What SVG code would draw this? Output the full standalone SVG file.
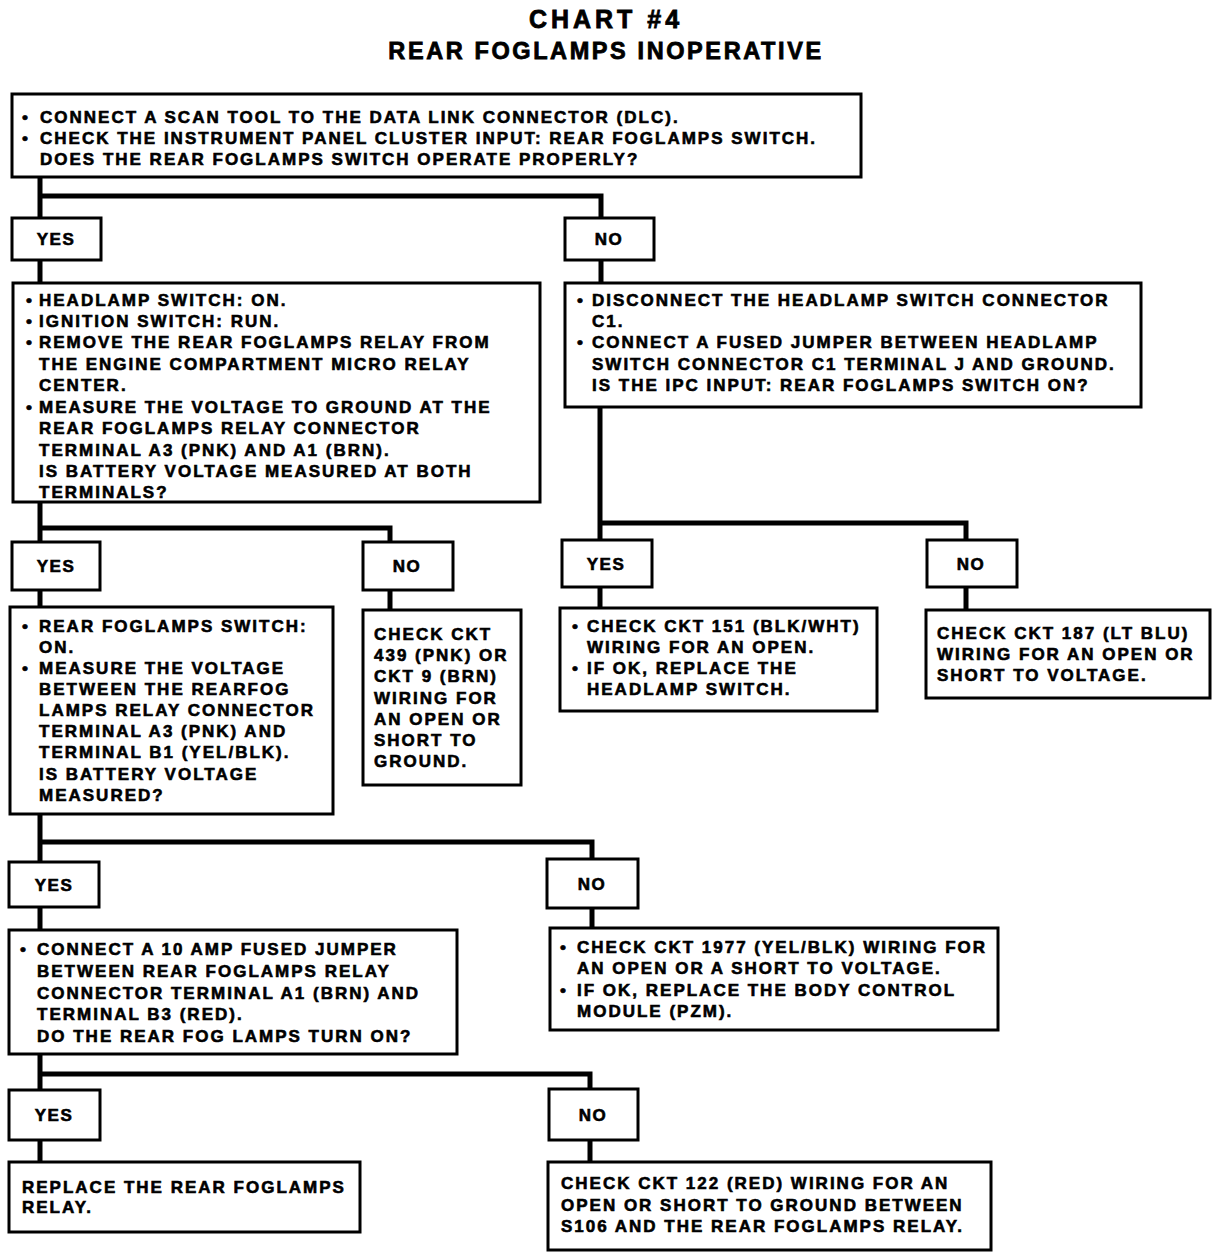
<svg xmlns="http://www.w3.org/2000/svg" width="1216" height="1260" viewBox="0 0 1216 1260">
<style>
.t{font-family:"Liberation Sans",Arial,sans-serif;font-weight:bold;font-size:17px;letter-spacing:2px;fill:#000;stroke:#000;stroke-width:0.6}
.h{font-family:"Liberation Sans",Arial,sans-serif;font-weight:bold;fill:#000;stroke:#000;stroke-width:0.8;text-anchor:middle}
.lb{font-family:"Liberation Sans",Arial,sans-serif;font-weight:bold;font-size:17px;letter-spacing:1.5px;fill:#000;stroke:#000;stroke-width:0.6;text-anchor:middle}
.box{fill:#fff;stroke:#000;stroke-width:3}
.conn{fill:none;stroke:#000;stroke-width:5}
</style>
<rect width="1216" height="1260" fill="#fff"/>
<g id="title">
<text class="h" x="606" y="28" font-size="25" letter-spacing="4">CHART #4</text>
<text class="h" x="606" y="59" font-size="23.5" letter-spacing="2.6">REAR FOGLAMPS INOPERATIVE</text>
</g>
<g id="connectors">
<path class="conn" d="M40,177 V218 M40,196 H601 V218"/>
<path class="conn" d="M40,260 V283 M601,260 V283"/>
<path class="conn" d="M40,502 V542 M40,528 H390 V542"/>
<path class="conn" d="M40,590 V607 M390,590 V610"/>
<path class="conn" d="M600,407 V540 M600,523 H966 V540"/>
<path class="conn" d="M600,587 V608 M966,587 V610"/>
<path class="conn" d="M40,814 V862 M40,842 H592 V859"/>
<path class="conn" d="M40,907 V930 M592,908 V928"/>
<path class="conn" d="M40,1054 V1090 M40,1074 H590 V1089"/>
<path class="conn" d="M40,1140 V1162 M590,1140 V1162"/>
</g>
<g id="n1">
<rect class="box" x="12" y="94" width="849" height="83"/>
<text class="t" x="22" y="123">•</text><text class="t" x="40" y="123">CONNECT A SCAN TOOL TO THE DATA LINK CONNECTOR (DLC).</text>
<text class="t" x="22" y="144">•</text><text class="t" x="40" y="144">CHECK THE INSTRUMENT PANEL CLUSTER INPUT: REAR FOGLAMPS SWITCH.</text>
<text class="t" x="40" y="165">DOES THE REAR FOGLAMPS SWITCH OPERATE PROPERLY?</text>
</g>
<g id="yes1"><rect class="box" x="12" y="218" width="89" height="42"/><text class="lb" x="56" y="245">YES</text></g>
<g id="no1"><rect class="box" x="565" y="218" width="89" height="42"/><text class="lb" x="609" y="245">NO</text></g>
<g id="n2">
<rect class="box" x="13" y="283" width="527" height="219"/>
<text class="t" x="26" y="306">•</text><text class="t" x="39" y="306">HEADLAMP SWITCH: ON.</text>
<text class="t" x="26" y="327">•</text><text class="t" x="39" y="327">IGNITION SWITCH: RUN.</text>
<text class="t" x="26" y="348">•</text><text class="t" x="39" y="348">REMOVE THE REAR FOGLAMPS RELAY FROM</text>
<text class="t" x="39" y="370">THE ENGINE COMPARTMENT MICRO RELAY</text>
<text class="t" x="39" y="391">CENTER.</text>
<text class="t" x="26" y="413">•</text><text class="t" x="39" y="413">MEASURE THE VOLTAGE TO GROUND AT THE</text>
<text class="t" x="39" y="434">REAR FOGLAMPS RELAY CONNECTOR</text>
<text class="t" x="39" y="456">TERMINAL A3 (PNK) AND A1 (BRN).</text>
<text class="t" x="39" y="477">IS BATTERY VOLTAGE MEASURED AT BOTH</text>
<text class="t" x="39" y="498">TERMINALS?</text>
</g>
<g id="n3">
<rect class="box" x="565" y="283" width="576" height="124"/>
<text class="t" x="577" y="306">•</text><text class="t" x="592" y="306">DISCONNECT THE HEADLAMP SWITCH CONNECTOR</text>
<text class="t" x="592" y="327">C1.</text>
<text class="t" x="577" y="348">•</text><text class="t" x="592" y="348">CONNECT A FUSED JUMPER BETWEEN HEADLAMP</text>
<text class="t" x="592" y="370">SWITCH CONNECTOR C1 TERMINAL J AND GROUND.</text>
<text class="t" x="592" y="391">IS THE IPC INPUT: REAR FOGLAMPS SWITCH ON?</text>
</g>
<g id="yes2"><rect class="box" x="12" y="542" width="88" height="48"/><text class="lb" x="56" y="572">YES</text></g>
<g id="no2"><rect class="box" x="363" y="542" width="90" height="48"/><text class="lb" x="407" y="572">NO</text></g>
<g id="yes3"><rect class="box" x="562" y="540" width="90" height="47"/><text class="lb" x="606" y="570">YES</text></g>
<g id="no3"><rect class="box" x="927" y="540" width="90" height="47"/><text class="lb" x="971" y="570">NO</text></g>
<g id="n4">
<rect class="box" x="10" y="607" width="323" height="207"/>
<text class="t" x="22" y="632">•</text><text class="t" x="39" y="632">REAR FOGLAMPS SWITCH:</text>
<text class="t" x="39" y="653">ON.</text>
<text class="t" x="22" y="674">•</text><text class="t" x="39" y="674">MEASURE THE VOLTAGE</text>
<text class="t" x="39" y="695">BETWEEN THE REARFOG</text>
<text class="t" x="39" y="716">LAMPS RELAY CONNECTOR</text>
<text class="t" x="39" y="737">TERMINAL A3 (PNK) AND</text>
<text class="t" x="39" y="758">TERMINAL B1 (YEL/BLK).</text>
<text class="t" x="39" y="780">IS BATTERY VOLTAGE</text>
<text class="t" x="39" y="801">MEASURED?</text>
</g>
<g id="n5">
<rect class="box" x="363" y="610" width="158" height="175"/>
<text class="t" x="374" y="640">CHECK CKT</text>
<text class="t" x="374" y="661">439 (PNK) OR</text>
<text class="t" x="374" y="682">CKT 9 (BRN)</text>
<text class="t" x="374" y="704">WIRING FOR</text>
<text class="t" x="374" y="725">AN OPEN OR</text>
<text class="t" x="374" y="746">SHORT TO</text>
<text class="t" x="374" y="767">GROUND.</text>
</g>
<g id="n6">
<rect class="box" x="560" y="608" width="317" height="103"/>
<text class="t" x="572" y="632">•</text><text class="t" x="587" y="632">CHECK CKT 151 (BLK/WHT)</text>
<text class="t" x="587" y="653">WIRING FOR AN OPEN.</text>
<text class="t" x="572" y="674">•</text><text class="t" x="587" y="674">IF OK, REPLACE THE</text>
<text class="t" x="587" y="695">HEADLAMP SWITCH.</text>
</g>
<g id="n7">
<rect class="box" x="926" y="610" width="284" height="88"/>
<text class="t" x="937" y="639">CHECK CKT 187 (LT BLU)</text>
<text class="t" x="937" y="660">WIRING FOR AN OPEN OR</text>
<text class="t" x="937" y="681">SHORT TO VOLTAGE.</text>
</g>
<g id="yes4"><rect class="box" x="9" y="862" width="90" height="45"/><text class="lb" x="54" y="891">YES</text></g>
<g id="no4"><rect class="box" x="547" y="859" width="91" height="49"/><text class="lb" x="592" y="890">NO</text></g>
<g id="n8">
<rect class="box" x="9" y="930" width="448" height="124"/>
<text class="t" x="20" y="955">•</text><text class="t" x="37" y="955">CONNECT A 10 AMP FUSED JUMPER</text>
<text class="t" x="37" y="977">BETWEEN REAR FOGLAMPS RELAY</text>
<text class="t" x="37" y="999">CONNECTOR TERMINAL A1 (BRN) AND</text>
<text class="t" x="37" y="1020">TERMINAL B3 (RED).</text>
<text class="t" x="37" y="1042">DO THE REAR FOG LAMPS TURN ON?</text>
</g>
<g id="n9">
<rect class="box" x="550" y="928" width="448" height="102"/>
<text class="t" x="560" y="953">•</text><text class="t" x="577" y="953">CHECK CKT 1977 (YEL/BLK) WIRING FOR</text>
<text class="t" x="577" y="974">AN OPEN OR A SHORT TO VOLTAGE.</text>
<text class="t" x="560" y="996">•</text><text class="t" x="577" y="996">IF OK, REPLACE THE BODY CONTROL</text>
<text class="t" x="577" y="1017">MODULE (PZM).</text>
</g>
<g id="yes5"><rect class="box" x="9" y="1090" width="91" height="50"/><text class="lb" x="54" y="1121">YES</text></g>
<g id="no5"><rect class="box" x="549" y="1089" width="89" height="51"/><text class="lb" x="593" y="1121">NO</text></g>
<g id="n10">
<rect class="box" x="9" y="1162" width="351" height="70"/>
<text class="t" x="22" y="1193">REPLACE THE REAR FOGLAMPS</text>
<text class="t" x="22" y="1213">RELAY.</text>
</g>
<g id="n11">
<rect class="box" x="548" y="1162" width="443" height="88"/>
<text class="t" x="561" y="1189">CHECK CKT 122 (RED) WIRING FOR AN</text>
<text class="t" x="561" y="1211">OPEN OR SHORT TO GROUND BETWEEN</text>
<text class="t" x="561" y="1232">S106 AND THE REAR FOGLAMPS RELAY.</text>
</g>
</svg>
